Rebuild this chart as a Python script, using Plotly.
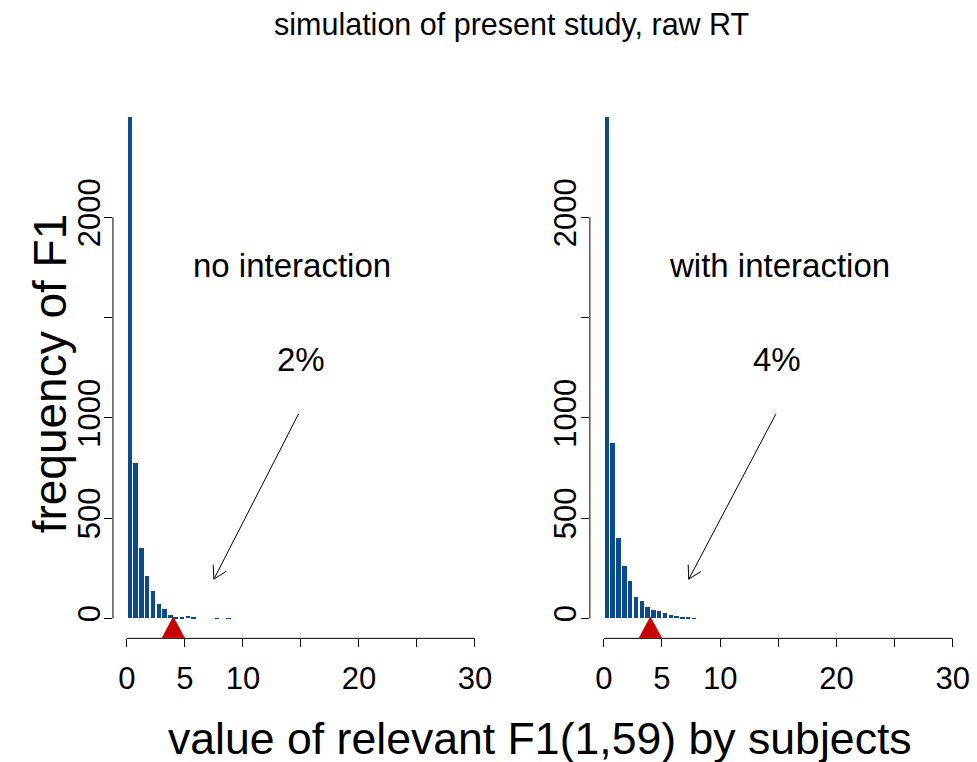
import math
import plotly.graph_objects as go

# ---------------- data ----------------
bin_width = 0.5
left_counts = [2500, 773, 349, 209, 135, 70, 46, 16, 3, 5, 11, 3, 0, 0, 0, 1, 0, 1]
right_counts = [2500, 876, 400, 261, 185, 106, 86, 56, 43, 36, 26, 16, 11, 6, 3, 1]
left_label = "no interaction"
right_label = "with interaction"
left_pct = "2%"
right_pct = "4%"
crit_value = 4.0
x_tickvals = [0, 5, 10, 15, 20, 25, 30]
x_ticktext = ["0", "5", "10", "", "20", "", "30"]
y_tickvals = [0, 500, 1000, 1500, 2000]
y_ticktext = ["0", "500", "1000", "", "2000"]
title_text = "simulation of present study, raw RT"
x_title = "value of relevant F1(1,59) by subjects"
y_title = "frequency of F1"

# ---------------- style ----------------
FONT = "Liberation Sans, Arial, Helvetica, sans-serif"
BLUE = "#0B4A8C"
RED = "#C80000"
W, H = 977, 762
XR = [-1.2, 31.2]
YR = [-100, 2600]
left_dom = [113.3 / W, 490.4 / W]
right_dom = [591.7 / W, 969.7 / W]
ydom = [(H - 638.35) / H, (H - 97.0) / H]

fig = go.Figure()

def centers(counts):
    return [i * bin_width + bin_width / 2 for i in range(len(counts))]

for counts, xa, ya in [(left_counts, "x", "y"), (right_counts, "x2", "y2")]:
    fig.add_trace(go.Bar(x=centers(counts), y=counts, width=0.38,
                         marker=dict(color=BLUE, line=dict(width=0)),
                         xaxis=xa, yaxis=ya, showlegend=False))
    # critical value triangle
    fig.add_trace(go.Scatter(x=[crit_value - 0.97, crit_value + 0.97, crit_value, crit_value - 0.97],
                             y=[-97, -97, 8, -97], mode="lines", fill="toself",
                             fillcolor=RED, line=dict(color=RED, width=0.5),
                             xaxis=xa, yaxis=ya, showlegend=False, hoverinfo="skip"))

axis_common = dict(showline=False, showgrid=False, zeroline=False, ticks="outside",
                   ticklen=8, tickwidth=1, tickcolor="black",
                   tickfont=dict(family=FONT, size=31, color="black"))

fig.update_layout(
    width=W, height=H, autosize=False,
    margin=dict(l=0, r=0, t=0, b=0),
    paper_bgcolor="white", plot_bgcolor="white",
    bargap=0,
    xaxis=dict(domain=left_dom, range=XR, tickvals=x_tickvals, ticktext=x_ticktext,
               anchor="y", ticklabelstandoff=4, **axis_common),
    yaxis=dict(domain=ydom, range=YR, tickvals=y_tickvals, ticktext=y_ticktext,
               anchor="x", tickangle=-90, ticklabelstandoff=-8, **axis_common),
    xaxis2=dict(domain=right_dom, range=XR, tickvals=x_tickvals, ticktext=x_ticktext,
                anchor="y2", ticklabelstandoff=4, **axis_common),
    yaxis2=dict(domain=ydom, range=YR, tickvals=y_tickvals, ticktext=y_ticktext,
                anchor="x2", tickangle=-90, ticklabelstandoff=-8, **axis_common),
)

shapes = []
for xa, ya in [("x", "y"), ("x2", "y2")]:
    shapes.append(dict(type="line", xref=xa, yref=ya + " domain", x0=x_tickvals[0], x1=x_tickvals[-1],
                       y0=0, y1=0, line=dict(color="black", width=1)))
    shapes.append(dict(type="line", xref=xa + " domain", yref=ya, x0=0, x1=0,
                       y0=y_tickvals[0], y1=y_tickvals[-1], line=dict(color="black", width=1)))

# arrows (R style open heads)
px_x = (490.4 - 113.3) / (XR[1] - XR[0])
px_y = (638.35 - 97.0) / (YR[1] - YR[0])
def arrow(xa, ya, x0, y0, x1, y1, head_px=14.5, ang=30):
    out = [dict(type="line", xref=xa, yref=ya, x0=x0, y0=y0, x1=x1, y1=y1,
                line=dict(color="black", width=1))]
    dx = (x0 - x1) * px_x
    dy = (y0 - y1) * px_y
    L = math.hypot(dx, dy)
    ux, uy = dx / L, dy / L
    for s in (1, -1):
        a = math.radians(ang * s)
        rx = ux * math.cos(a) - uy * math.sin(a)
        ry = ux * math.sin(a) + uy * math.cos(a)
        out.append(dict(type="line", xref=xa, yref=ya, x0=x1, y0=y1,
                        x1=x1 + rx * head_px / px_x, y1=y1 + ry * head_px / px_y,
                        line=dict(color="black", width=1)))
    return out

shapes += arrow("x", "y", 14.8, 1020, 7.5, 195)
shapes += arrow("x2", "y2", 14.8, 1020, 7.3, 195)
fig.update_layout(shapes=shapes)

ann = []
def txt(text, x, y, xref, yref, size, angle=0):
    ann.append(dict(text=text, x=x, y=y, xref=xref, yref=yref, showarrow=False,
                    xanchor="center", yanchor="middle", textangle=angle,
                    font=dict(family=FONT, size=size, color="black")))

txt(left_label, 14.2, 1760, "x", "y", 33)
txt(left_pct, 15.0, 1290, "x", "y", 33)
txt(right_label, 15.06, 1760, "x2", "y2", 33)
txt(right_pct, 14.85, 1290, "x2", "y2", 33)
txt(title_text, 513.5 / W, 1 - 25 / H, "paper", "paper", 30.5)
txt(x_title, 541.5 / W, 1 - 738 / H, "paper", "paper", 44.6)
txt(y_title, 50 / W, 1 - 373.5 / H, "paper", "paper", 46, angle=-90)
fig.update_layout(annotations=ann)

fig.write_html("out.html", config={"displayModeBar": False},
               post_script="document.body.style.margin='0';document.body.style.padding='0';document.body.style.overflow='hidden';")
